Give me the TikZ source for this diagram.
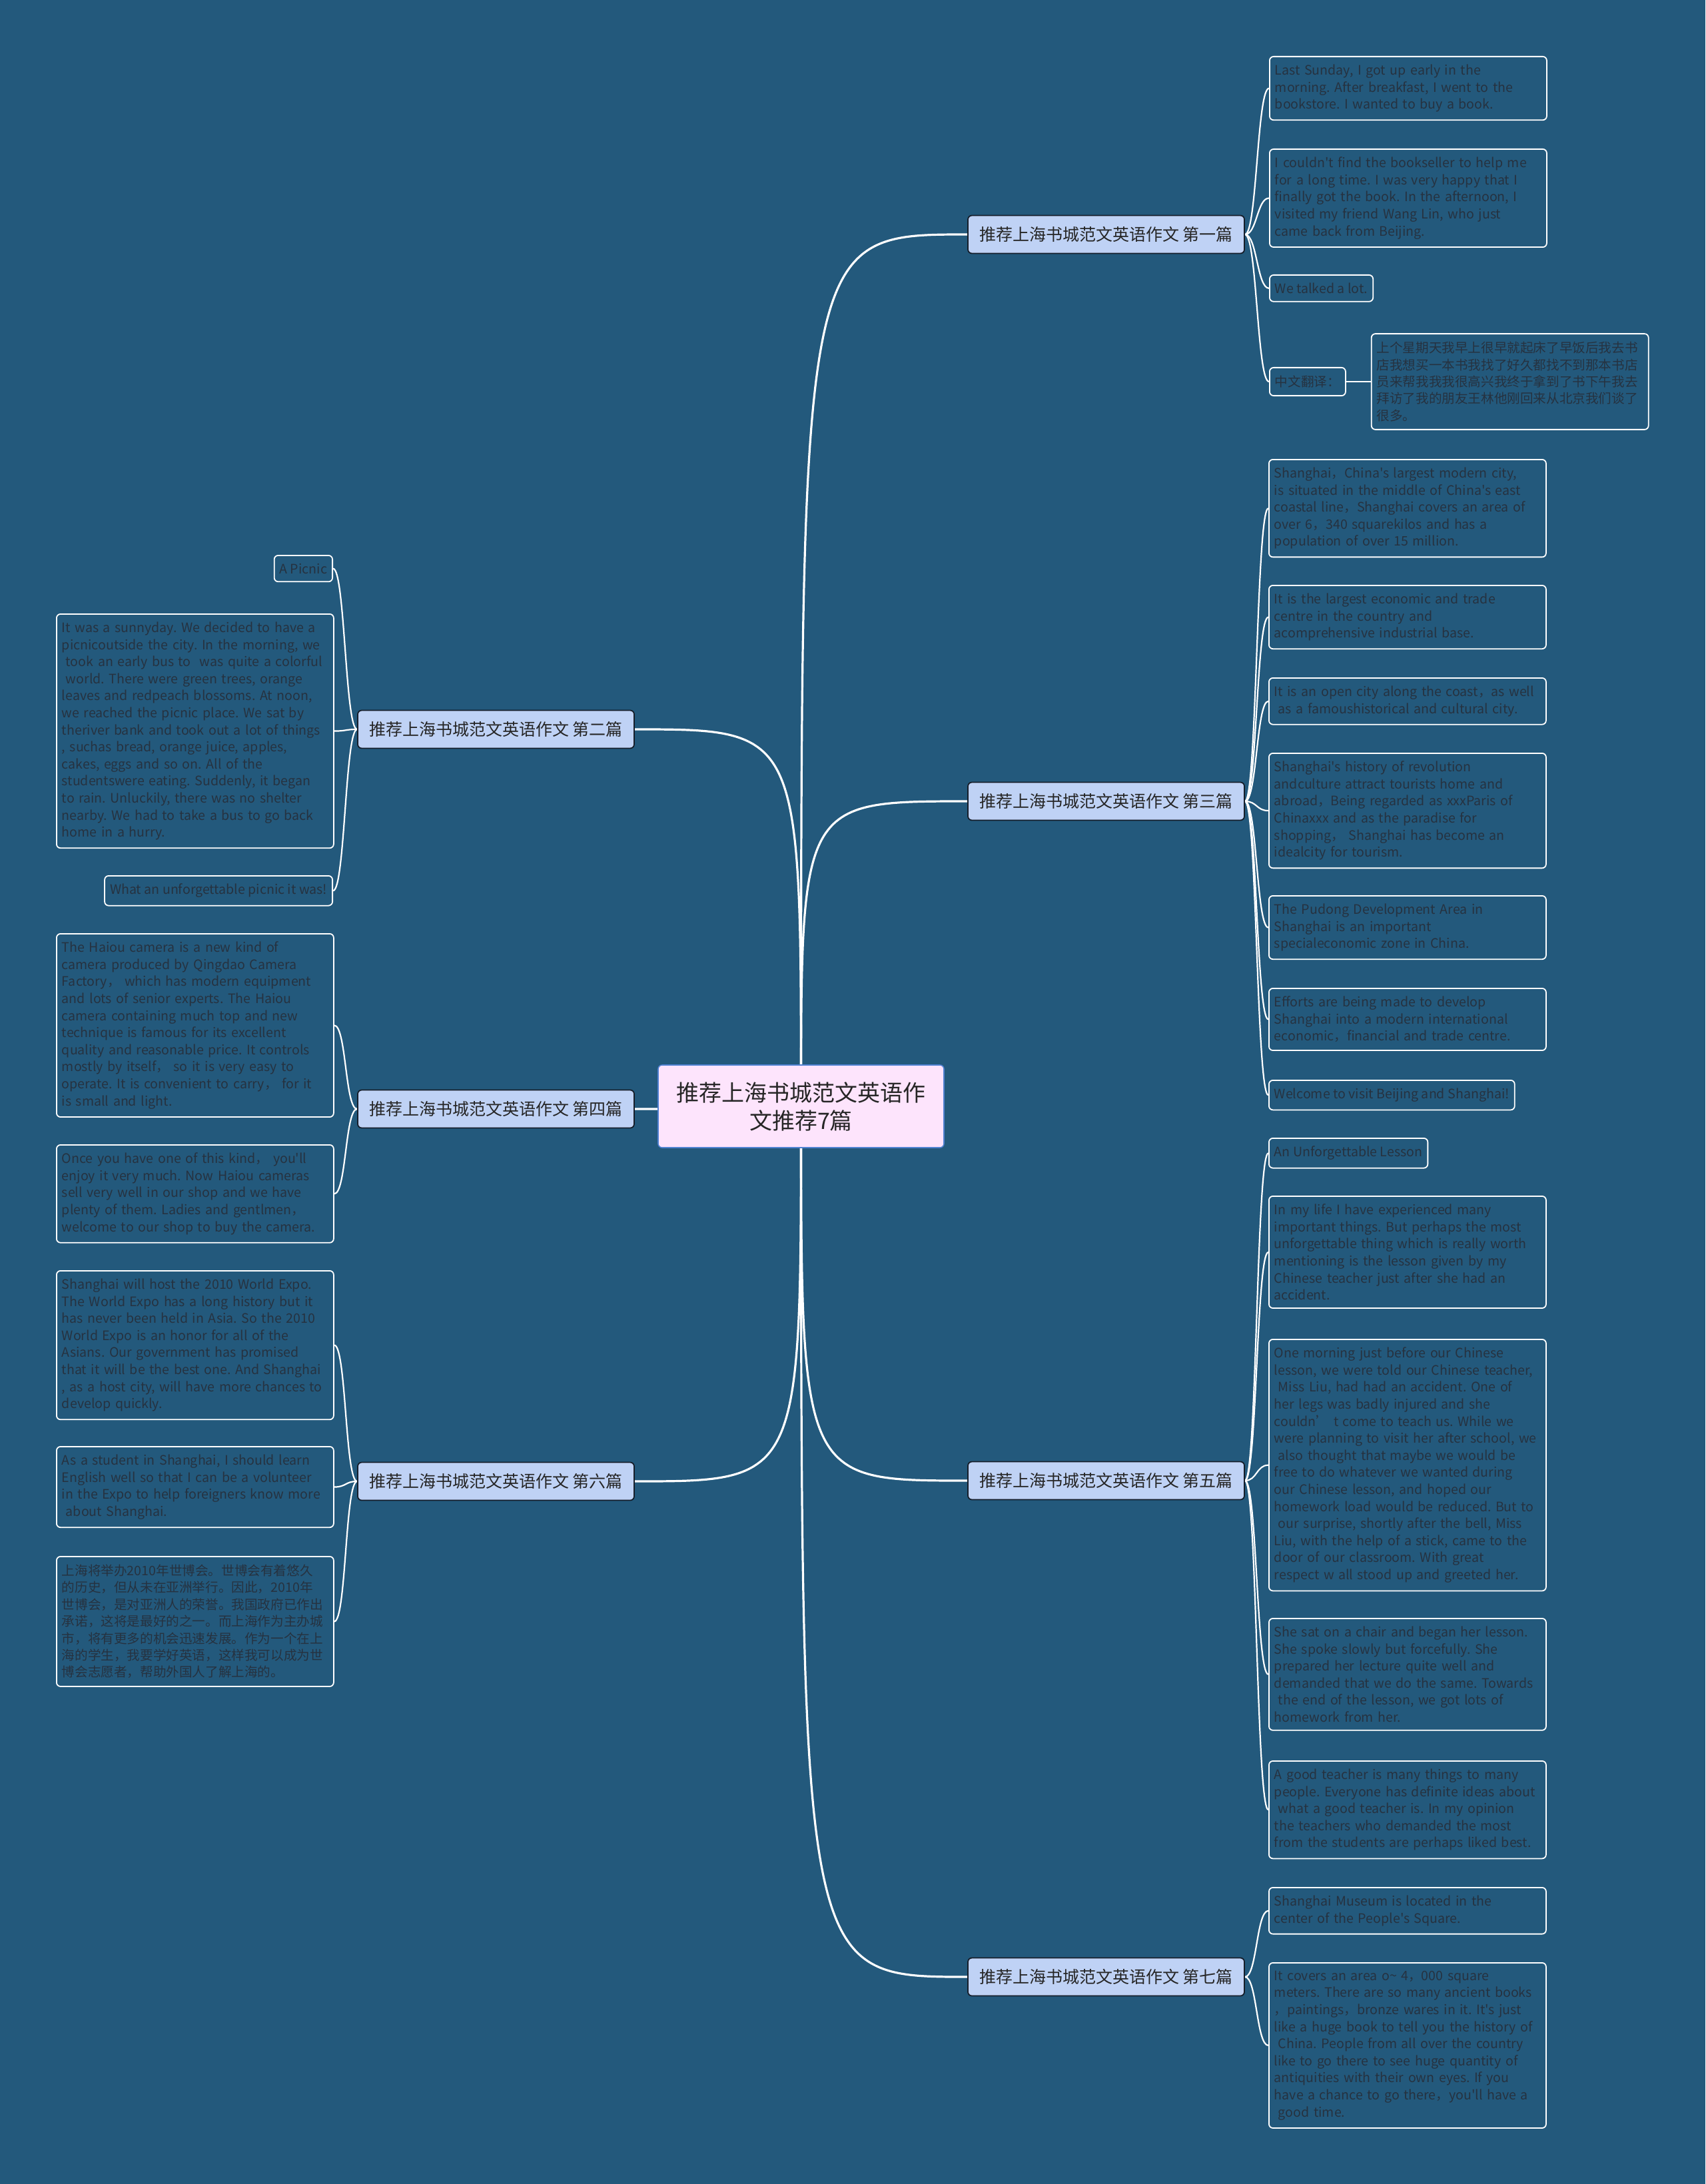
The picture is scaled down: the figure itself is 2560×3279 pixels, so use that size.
\documentclass[tikz,border=0pt]{standalone}
\usepackage{fontspec}
\setmainfont{Noto Sans CJK SC}[Ligatures=TeXOff]
\usetikzlibrary{positioning,backgrounds}

\definecolor{mapbg}{RGB}{35,89,124}
\definecolor{leaftext}{RGB}{38,50,64}
\definecolor{branchfill}{RGB}{191,210,245}
\definecolor{branchdraw}{RGB}{22,30,42}
\definecolor{rootfill}{RGB}{253,228,252}
\definecolor{rootdraw}{RGB}{80,130,210}

\newcommand{\lead}{\hspace*{3pt}}
\frenchspacing
\hyphenpenalty=10000
\exhyphenpenalty=10000

\begin{document}
\begin{tikzpicture}[
  x=0.5pt, y=-0.5pt,
  root/.style={
    draw=rootdraw, line width=0.8pt, fill=rootfill, rounded corners=3pt,
    minimum width=214.5pt, minimum height=62pt, align=center,
    font=\fontsize{17}{21}\selectfont, text=black!85
  },
  branch/.style={
    draw=branchdraw, line width=0.9pt, fill=branchfill, rounded corners=3pt,
    minimum width=207.5pt, minimum height=28.5pt,
    font=\fontsize{12.5}{15}\selectfont, text=black!85
  },
  leaf/.style={
    draw=white, line width=0.9pt, fill=mapbg, rounded corners=3pt,
    inner xsep=4pt, inner ysep=6pt, align=left, text=leaftext,
    font=\fontsize{9.8}{12.8}\selectfont
  },
  wide/.style={leaf, text width=200pt},
  cn/.style={font=\fontsize{9.8}{12.7}\selectfont},
  rootline/.style={draw=white, line width=1.6pt},
  leafline/.style={draw=white, line width=1.1pt}
]
  \useasboundingbox (0,0) rectangle (2560,3279);

  % centre and branches
  \node[root] (root) at (1202.5,1661) {推荐上海书城范文英语作\\文推荐7篇};

  \node[branch] (b1) at (1660.5,352)  {推荐上海书城范文英语作文 第一篇};
  \node[branch] (b3) at (1660.5,1203) {推荐上海书城范文英语作文 第三篇};
  \node[branch] (b5) at (1660.5,2223) {推荐上海书城范文英语作文 第五篇};
  \node[branch] (b7) at (1660.5,2968) {推荐上海书城范文英语作文 第七篇};
  \node[branch] (b2) at (744.5,1095)  {推荐上海书城范文英语作文 第二篇};
  \node[branch] (b4) at (744.5,1665)  {推荐上海书城范文英语作文 第四篇};
  \node[branch] (b6) at (744.5,2224)  {推荐上海书城范文英语作文 第六篇};

  % first essay
  \node[wide, anchor=north west] (l1a) at (1905,84)
    {Last Sunday, I got up early in the\\morning. After breakfast, I went to the\\bookstore. I wanted to buy a book.};
  \node[wide, anchor=north west] (l1b) at (1905,223)
    {I couldn't find the bookseller to help me\\for a long time. I was very happy that I\\finally got the book. In the afternoon, I\\visited my friend Wang Lin, who just\\came back from Beijing.};
  \node[leaf, anchor=north west] (l1c) at (1905,412) {We talked a lot.};
  \node[leaf, anchor=north west] (tr) at (1905,551) {中文翻译：};
  \node[wide, cn, right=18.5pt of tr] (trans)
    {上个星期天我早上很早就起床了早饭后我去书\\店我想买一本书我找了好久都找不到那本书店\\员来帮我我我很高兴我终于拿到了书下午我去\\拜访了我的朋友王林他刚回来从北京我们谈了\\很多。};

  % third essay
  \node[wide, anchor=north west] (l3a) at (1904,689)
    {Shanghai，China's largest modern city,\\is situated in the middle of China's east\\coastal line，Shanghai covers an area of\\over 6，340 squarekilos and has a\\population of over 15 million.};
  \node[wide, anchor=north west] (l3b) at (1904,878)
    {It is the largest economic and trade\\centre in the country and\\acomprehensive industrial base.};
  \node[wide, anchor=north west] (l3c) at (1904,1017)
    {It is an open city along the coast，as well\\\lead as a famoushistorical and cultural city.};
  \node[wide, anchor=north west] (l3d) at (1904,1130)
    {Shanghai's history of revolution\\andculture attract tourists home and\\abroad，Being regarded as xxxParis of\\Chinaxxx and as the paradise for\\shopping，\ Shanghai has become an\\idealcity for tourism.};
  \node[wide, anchor=north west] (l3e) at (1904,1344)
    {The Pudong Development Area in\\Shanghai is an important\\specialeconomic zone in China.};
  \node[wide, anchor=north west] (l3f) at (1904,1483)
    {Efforts are being made to develop\\Shanghai into a modern international\\economic，financial and trade centre.};
  \node[leaf, anchor=north west] (l3g) at (1904,1621) {Welcome to visit Beijing and Shanghai!};

  % fifth essay
  \node[leaf, anchor=north west] (l5a) at (1904,1708) {An Unforgettable Lesson};
  \node[wide, anchor=north west] (l5b) at (1904,1795)
    {In my life I have experienced many\\important things. But perhaps the most\\unforgettable thing which is really worth\\mentioning is the lesson given by my\\Chinese teacher just after she had an\\accident.};
  \node[wide, anchor=north west] (l5c) at (1904,2010)
    {One morning just before our Chinese\\lesson, we were told our Chinese teacher,\\\lead Miss Liu, had had an accident. One of\\her legs was badly injured and she\\couldn’ t come to teach us. While we\\were planning to visit her after school, we\\\lead also thought that maybe we would be\\free to do whatever we wanted during\\our Chinese lesson, and hoped our\\homework load would be reduced. But to\\\lead our surprise, shortly after the bell, Miss\\Liu, with the help of a stick, came to the\\door of our classroom. With great\\respect w all stood up and greeted her.};
  \node[wide, anchor=north west] (l5d) at (1904,2429)
    {She sat on a chair and began her lesson.\\She spoke slowly but forcefully. She\\prepared her lecture quite well and\\demanded that we do the same. Towards\\\lead the end of the lesson, we got lots of\\homework from her.};
  \node[wide, anchor=north west] (l5e) at (1904,2643)
    {A good teacher is many things to many\\people. Everyone has definite ideas about\\\lead what a good teacher is. In my opinion\\the teachers who demanded the most\\from the students are perhaps liked best.};

  % seventh essay
  \node[wide, anchor=north west] (l7a) at (1904,2833)
    {Shanghai Museum is located in the\\center of the People's Square.};
  \node[wide, anchor=north west] (l7b) at (1904,2946)
    {It covers an area o\textasciitilde{} 4，000 square\\meters. There are so many ancient books\\，paintings，bronze wares in it. It's just\\like a huge book to tell you the history of\\\lead China. People from all over the country\\like to go there to see huge quantity of\\antiquities with their own eyes. If you\\have a chance to go there，you'll have a\\\lead good time.};

  % second essay
  \node[leaf, anchor=north east] (l2a) at (500,833) {A Picnic};
  \node[wide, anchor=north west] (l2b) at (84,921)
    {It was a sunnyday. We decided to have a\\picnicoutside the city. In the morning, we\\\lead took an early bus to\ \ was quite a colorful\\\lead world. There were green trees, orange\\leaves and redpeach blossoms. At noon,\\we reached the picnic place. We sat by\\theriver bank and took out a lot of things\\, suchas bread, orange juice, apples,\\cakes, eggs and so on. All of the\\studentswere eating. Suddenly, it began\\to rain. Unluckily, there was no shelter\\nearby. We had to take a bus to go back\\home in a hurry.};
  \node[leaf, anchor=north east] (l2c) at (500,1314) {What an unforgettable picnic it was!};

  % fourth essay
  \node[wide, anchor=north west] (l4a) at (84,1401)
    {The Haiou camera is a new kind of\\camera produced by Qingdao Camera\\Factory，\ which has modern equipment\\and lots of senior experts. The Haiou\\camera containing much top and new\\technique is famous for its excellent\\quality and reasonable price. It controls\\mostly by itself，\ so it is very easy to\\operate. It is convenient to carry，\ for it\\is small and light.};
  \node[wide, anchor=north west] (l4b) at (84,1718)
    {Once you have one of this kind，\ you'll\\enjoy it very much. Now Haiou cameras\\sell very well in our shop and we have\\plenty of them. Ladies and gentlmen，\\welcome to our shop to buy the camera.};

  % sixth essay
  \node[wide, anchor=north west] (l6a) at (84,1907)
    {Shanghai will host the 2010 World Expo.\\The World Expo has a long history but it\\has never been held in Asia. So the 2010\\World Expo is an honor for all of the\\Asians. Our government has promised\\that it will be the best one. And Shanghai\\, as a host city, will have more chances to\\develop quickly.};
  \node[wide, anchor=north west] (l6b) at (84,2171)
    {As a student in Shanghai, I should learn\\English well so that I can be a volunteer\\in the Expo to help foreigners know more\\\lead about Shanghai.};
  \node[wide, cn, anchor=north west] (l6c) at (84,2336)
    {上海将举办2010年世博会。世博会有着悠久\\的历史，但从未在亚洲举行。因此，2010年\\世博会，是对亚洲人的荣誉。我国政府已作出\\承诺，这将是最好的之一。而上海作为主办城\\市，将有更多的机会迅速发展。作为一个在上\\海的学生，我要学好英语，这样我可以成为世\\博会志愿者，帮助外国人了解上海的。};

  \begin{pgfonlayer}{background}
    \fill[mapbg] (0,0) rectangle (2560,3279);

    \draw[rootline] (root.center) .. controls (root.center |- b1.west) .. (b1.west);
    \draw[rootline] (root.center) .. controls (root.center |- b3.west) .. (b3.west);
    \draw[rootline] (root.center) .. controls (root.center |- b5.west) .. (b5.west);
    \draw[rootline] (root.center) .. controls (root.center |- b7.west) .. (b7.west);
    \draw[rootline] (root.center) .. controls (root.center |- b2.east) .. (b2.east);
    \draw[rootline] (root.center) .. controls (root.center |- b4.east) .. (b4.east);
    \draw[rootline] (root.center) .. controls (root.center |- b6.east) .. (b6.east);

    \draw[leafline] (b1.east) .. controls +(18,0) and +(-18,0) .. (l1a.west);
    \draw[leafline] (b1.east) .. controls +(18,0) and +(-18,0) .. (l1b.west);
    \draw[leafline] (b1.east) .. controls +(18,0) and +(-18,0) .. (l1c.west);
    \draw[leafline] (b1.east) .. controls +(18,0) and +(-18,0) .. (tr.west);
    \draw[leafline] (tr) -- (trans);

    \draw[leafline] (b3.east) .. controls +(18,0) and +(-18,0) .. (l3a.west);
    \draw[leafline] (b3.east) .. controls +(18,0) and +(-18,0) .. (l3b.west);
    \draw[leafline] (b3.east) .. controls +(18,0) and +(-18,0) .. (l3c.west);
    \draw[leafline] (b3.east) .. controls +(18,0) and +(-18,0) .. (l3d.west);
    \draw[leafline] (b3.east) .. controls +(18,0) and +(-18,0) .. (l3e.west);
    \draw[leafline] (b3.east) .. controls +(18,0) and +(-18,0) .. (l3f.west);
    \draw[leafline] (b3.east) .. controls +(18,0) and +(-18,0) .. (l3g.west);

    \draw[leafline] (b5.east) .. controls +(18,0) and +(-18,0) .. (l5a.west);
    \draw[leafline] (b5.east) .. controls +(18,0) and +(-18,0) .. (l5b.west);
    \draw[leafline] (b5.east) .. controls +(18,0) and +(-18,0) .. (l5c.west);
    \draw[leafline] (b5.east) .. controls +(18,0) and +(-18,0) .. (l5d.west);
    \draw[leafline] (b5.east) .. controls +(18,0) and +(-18,0) .. (l5e.west);

    \draw[leafline] (b7.east) .. controls +(18,0) and +(-18,0) .. (l7a.west);
    \draw[leafline] (b7.east) .. controls +(18,0) and +(-18,0) .. (l7b.west);

    \draw[leafline] (b2.west) .. controls +(-18,0) and +(18,0) .. (l2a.east);
    \draw[leafline] (b2.west) .. controls +(-18,0) and +(18,0) .. (l2b.east);
    \draw[leafline] (b2.west) .. controls +(-18,0) and +(18,0) .. (l2c.east);

    \draw[leafline] (b4.west) .. controls +(-18,0) and +(18,0) .. (l4a.east);
    \draw[leafline] (b4.west) .. controls +(-18,0) and +(18,0) .. (l4b.east);

    \draw[leafline] (b6.west) .. controls +(-18,0) and +(18,0) .. (l6a.east);
    \draw[leafline] (b6.west) .. controls +(-18,0) and +(18,0) .. (l6b.east);
    \draw[leafline] (b6.west) .. controls +(-18,0) and +(18,0) .. (l6c.east);
  \end{pgfonlayer}
\end{tikzpicture}
\end{document}
